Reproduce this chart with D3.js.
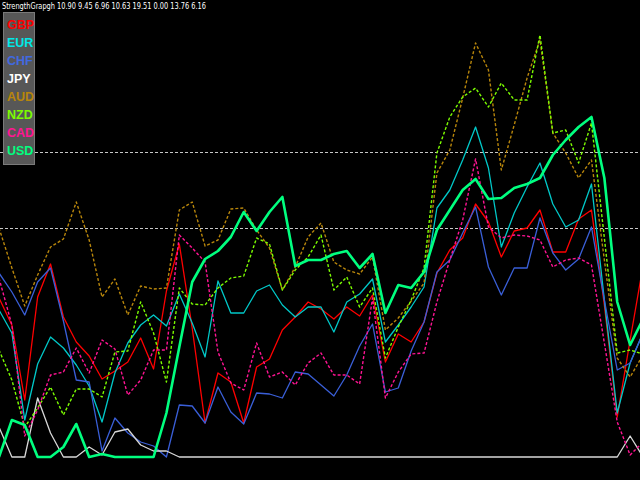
<!DOCTYPE html>
<html><head><meta charset="utf-8">
<script src="https://cdn.jsdelivr.net/npm/d3@7"></script>
<style>html,body{margin:0;padding:0;background:#000;overflow:hidden}</style>
</head><body>
<svg id="chart" width="640" height="480"></svg>
<script>
const titleText = "StrengthGrapgh 10.90 9.45 6.96 10.63 19.51 0.00 13.76 6.16";
const currencies = ["GBP","EUR","CHF","JPY","AUD","NZD","CAD","USD"];
const colors = ["#ff0000","#00e8e8","#4169e1","#ffffff","#b8860b","#7cfc00","#ff1493","#00ff7f"];
const levels = [22.9, 30.5];

const GBP = [15.9,13.2,5.7,16.0,19.3,14.0,11.5,10.1,7.8,8.6,9.5,11.9,8.8,16.6,21.3,12.9,3.4,8.4,7.5,3.4,9.0,9.8,12.7,14.0,15.5,14.8,13.8,15.0,14.1,16.2,9.5,12.3,11.5,13.5,18.4,20.7,21.9,25.3,23.5,20.0,22.6,22.9,24.7,20.5,20.5,23.8,24.7,15.2,4.0,11.7,19.1];
const EUR = [14.7,12.4,3.7,9.3,12.0,10.9,9.2,7.1,3.5,8.4,11.4,13.2,14.2,13.1,16.3,13.4,10.0,17.6,14.4,14.4,16.6,17.2,15.2,14.0,15.0,15.0,12.5,15.5,16.3,17.8,11.5,13.2,15.0,17.0,24.9,26.7,29.7,33.0,28.9,21.0,24.4,27.0,29.4,25.3,23.0,23.7,27.3,15.7,4.4,9.4,12.4];
const CHF = [18.4,16.5,14.2,17.5,18.9,13.6,7.7,7.5,0.6,3.9,2.4,1.5,1.1,0,5.2,5.1,3.4,7.0,4.5,3.3,6.4,6.3,5.9,8.5,8.3,7.2,6.1,8.2,11.1,13.3,6.5,6.9,10.6,13.5,18.5,19.7,22.4,25.0,19.0,16.2,18.9,18.9,23.9,20.4,18.7,19.8,23.0,15.7,8.7,9.4,12.4];
const JPY = [3.0,0,0,5.9,2.4,0,0,1.0,0.2,2.5,2.8,1.2,0.6,0.6,0,0,0,0,0,0,0,0,0,0,0,0,0,0,0,0,0,0,0,0,0,0,0,0,0,0,0,0,0,0,0,0,0,0,0,2.1,0];
const AUD = [22.9,18.9,15.1,18.2,21.0,21.8,25.5,21.7,16.0,17.8,14.2,17.1,16.8,16.9,24.7,25.5,21.1,21.7,24.8,24.9,22.7,20.9,16.7,19.0,22.0,23.4,19.5,18.7,18.3,20.0,12.7,13.9,15.6,17.4,28.4,30.7,35.9,41.4,38.7,28.7,33.2,37.9,41.7,32.4,30.4,27.9,29.7,19.7,9.9,8.0,10.2];
const NZD = [10.7,7.7,3.0,4.9,7.0,4.2,6.8,6.8,6.0,10.5,10.6,15.5,12.4,7.5,16.9,15.3,15.2,16.9,17.9,18.1,21.9,21.3,16.7,18.7,20.0,22.2,16.7,18.0,15.0,16.9,9.9,13.0,15.7,18.9,30.4,34.0,36.0,36.9,35.0,37.4,35.7,35.7,42.2,32.4,32.7,29.4,33.4,21.9,10.4,10.7,10.3];
const CAD = [17.9,13.2,2.1,4.7,8.2,8.5,10.9,8.4,11.7,10.8,6.2,7.7,10.7,10.7,22.2,20.9,19.5,10.5,7.4,6.7,11.4,8.0,8.5,7.2,9.4,10.4,8.2,8.2,7.3,15.9,5.9,8.5,10.3,10.4,15.5,19.7,23.7,29.8,23.0,21.9,22.2,22.1,21.7,19.0,19.7,19.9,19.2,11.4,3.5,0.2,1.5];
const USD = [0,3.7,3.2,0,0,1.0,3.3,0,0.3,0,0,0,0,4.4,11.0,17.5,19.8,20.6,22.0,24.5,22.6,24.5,26.0,19.1,19.7,19.7,20.3,20.6,18.9,20.3,14.4,17.2,16.9,18.5,22.7,24.7,26.7,27.8,25.8,25.9,26.9,27.3,27.9,30.2,31.7,33.0,34.0,27.9,15.5,11.2,13.8];

const seriesData = [GBP,EUR,CHF,JPY,AUD,NZD,CAD,USD];
const lineColors = ["#ff0000","#00c8c8","#3a5fd8","#d8d8d8","#b8860b","#7cfc00","#ff1493","#00ff7f"];
const dashed = [false,false,false,false,true,true,true,false];
const widths = [1.3,1.3,1.3,1.3,1.4,1.4,1.4,2.6];

const svg = d3.select("#chart");
svg.append("rect").attr("width",640).attr("height",480).attr("fill","#000");

const n = USD.length;
const x = d3.scaleLinear().domain([0, n-1]).range([-1, 643]);
const y = d3.scaleLinear().domain([0, 45.7]).range([457, 0]);

// level lines
svg.selectAll("line.level").data(levels).join("line")
  .attr("class","level")
  .attr("x1",0).attr("x2",640)
  .attr("y1",d=>Math.round(y(d))+0.5).attr("y2",d=>Math.round(y(d))+0.5)
  .attr("stroke","#c8c8c8").attr("stroke-width",1).attr("stroke-dasharray","3,2");

const line = d3.line().x((d,i)=>x(i)).y(d=>y(d));
const g = svg.append("g");
seriesData.forEach((s,k)=>{
  g.append("path").datum(s)
    .attr("d",line)
    .attr("fill","none")
    .attr("stroke",lineColors[k])
    .attr("stroke-width",widths[k])
    .attr("stroke-linejoin","round")
    .attr("stroke-dasharray",dashed[k]?"3,2":null);
});

// title
svg.append("text").attr("x",2).attr("y",9)
  .attr("font-family","Tahoma, 'DejaVu Sans', sans-serif")
  .attr("font-size",9.5).attr("fill","#ffffff")
  .attr("textLength",204).attr("lengthAdjust","spacingAndGlyphs")
  .text(titleText);

// legend box
const leg = svg.append("g");
leg.append("rect").attr("x",3.5).attr("y",12.5).attr("width",31).attr("height",152)
  .attr("fill","#575757").attr("stroke","#7a7a7a").attr("stroke-width",1);
leg.selectAll("text").data(currencies).join("text")
  .attr("x",7).attr("y",(d,i)=>29+i*18)
  .attr("font-family","Arial, 'Liberation Sans', sans-serif")
  .attr("font-weight","bold").attr("font-size",12.5)
  .attr("fill",(d,i)=>colors[i])
  .text(d=>d);
</script>
</body></html>
